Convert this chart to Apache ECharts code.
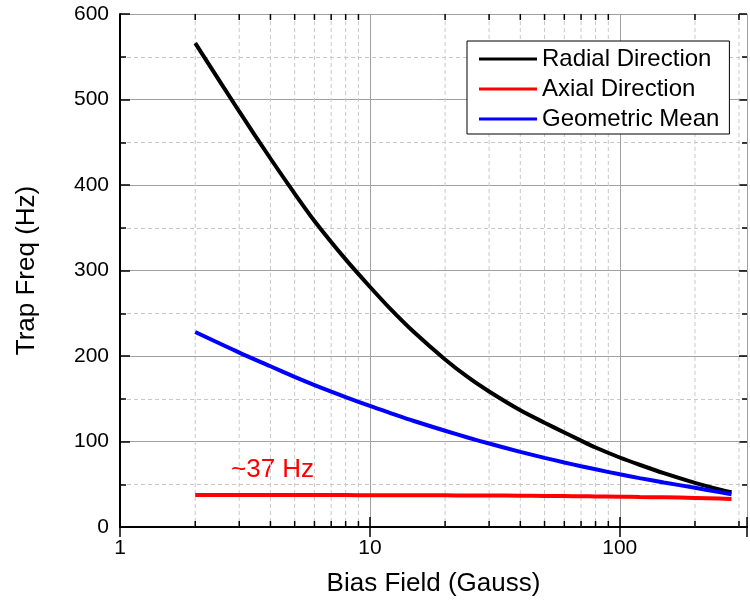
<!DOCTYPE html>
<html>
<head>
<meta charset="utf-8">
<script src="https://cdn.jsdelivr.net/npm/echarts@6/dist/echarts.min.js"></script>
<style>
  html, body { margin: 0; padding: 0; background: #fff; }
  #chart { width: 750px; height: 604px; }
</style>
</head>
<body>
<div id="chart"></div>
<script>
// bias field (Gauss) and trap frequencies (Hz)
var bias    = [2, 3, 4, 5, 6, 8, 10, 12, 15, 20, 25, 30, 40, 50, 60, 70, 80, 100, 120, 150, 200, 250, 280];
var radial  = [566, 486, 431, 390, 358, 313, 281, 256, 228, 196, 174, 158.5, 136.5, 122, 110.6, 101, 93, 81.3, 72.8, 63, 51.7, 44, 40.7];
var axial   = [37.5, 37.5, 37.4, 37.4, 37.3, 37.3, 37.2, 37.1, 37.1, 37, 36.9, 36.8, 36.6, 36.4, 36.2, 36, 35.8, 35.5, 35.1, 34.7, 34, 33.3, 32.8];
var geoMean = [228, 204, 188, 175.6, 166, 152, 141.6, 133.6, 124, 112.6, 104.1, 97.6, 87.9, 80.9, 75.5, 71.1, 67.5, 61.6, 57.2, 52.1, 45.8, 40.8, 38.3];
// minor decade positions for the dashed grid + small ticks
var minorX = [2, 3, 4, 5, 6, 7, 8, 9, 20, 30, 40, 50, 60, 70, 80, 90, 200, 300];
var names = ['Radial Direction', 'Axial Direction', 'Geometric Mean'];

var FONT = 'Liberation Sans, Arial, sans-serif';
var chart = echarts.init(document.getElementById('chart'));

function pairs(xs, ys) {
  var out = [];
  for (var i = 0; i < xs.length; i++) out.push([xs[i], ys[i]]);
  return out;
}

function isDecade(v) {
  var l = Math.log(v) / Math.LN10;
  return Math.abs(l - Math.round(l)) < 1e-6;
}

// dashed minor grid line and the short in-ticks at top and bottom
function renderMinor(params, api) {
  var x = api.value(0);
  var b = api.coord([x, 0]);
  var t = api.coord([x, 600]);
  return {
    type: 'group',
    children: [
      { type: 'line', shape: { x1: b[0], y1: t[1], x2: b[0], y2: b[1] },
        style: { stroke: '#c8c8c8', lineWidth: 1, lineDash: [4, 3] } },
      { type: 'line', shape: { x1: b[0], y1: b[1], x2: b[0], y2: b[1] - 6 },
        style: { stroke: '#000', lineWidth: 1.5 } },
      { type: 'line', shape: { x1: b[0], y1: t[1], x2: b[0], y2: t[1] + 6 },
        style: { stroke: '#000', lineWidth: 1.5 } }
    ]
  };
}

var option = {
  animation: false,
  backgroundColor: '#fff',
  textStyle: { fontFamily: FONT },
  grid: { left: 120, right: 0, top: 14, bottom: 77 },
  legend: {
    data: names,
    orient: 'vertical',
    left: 467,
    top: 41,
    padding: [6, 10, 3, 12],
    icon: 'rect',
    itemWidth: 58,
    itemHeight: 3,
    itemGap: 6,
    borderColor: '#000',
    borderWidth: 1,
    backgroundColor: '#fff',
    textStyle: { fontSize: 24, color: '#000', fontFamily: FONT, lineHeight: 24 }
  },
  xAxis: [{
    type: 'log',
    logBase: 10,
    min: 1,
    max: 323,
    name: 'Bias Field (Gauss)',
    nameLocation: 'middle',
    nameGap: 44,
    nameTextStyle: { fontSize: 26, color: '#000', fontFamily: FONT },
    axisLine: { lineStyle: { color: '#000', width: 2 } },
    axisTick: { inside: true, length: 10, lineStyle: { color: '#000', width: 1.5 } },
    axisLabel: {
      fontSize: 21, color: '#000', margin: 11, fontFamily: FONT,
      formatter: function (v) { return isDecade(v) ? String(Math.round(v)) : ''; }
    },
    splitLine: { show: true, lineStyle: { color: '#a0a0a0', width: 1 } }
  }, {
    type: 'log',
    logBase: 10,
    min: 1,
    max: 323,
    position: 'top',
    axisLine: { lineStyle: { color: '#000', width: 2 } },
    axisTick: { inside: true, length: 10, lineStyle: { color: '#000', width: 1.5 } },
    axisLabel: { show: false },
    splitLine: { show: false }
  }],
  yAxis: [{
    type: 'value',
    min: 0,
    max: 600,
    interval: 100,
    name: 'Trap Freq (Hz)',
    nameLocation: 'middle',
    nameGap: 80,
    nameTextStyle: { fontSize: 26, color: '#000', fontFamily: FONT },
    axisLine: { show: true, lineStyle: { color: '#000', width: 2 } },
    axisTick: { inside: true, length: 10, lineStyle: { color: '#000', width: 1.5 } },
    minorTick: { show: true, splitNumber: 2, length: 6, lineStyle: { color: '#000', width: 1.5 } },
    axisLabel: { fontSize: 21, color: '#000', margin: 11, fontFamily: FONT },
    splitLine: { show: true, lineStyle: { color: '#a0a0a0', width: 1 } },
    minorSplitLine: { show: true, lineStyle: { color: '#c8c8c8', width: 1, type: [4, 3] } }
  }, {
    type: 'value',
    min: 0,
    max: 600,
    interval: 100,
    position: 'right',
    axisLine: { show: false },
    axisTick: { inside: true, length: 8, lineStyle: { color: '#000', width: 1.5 } },
    minorTick: { show: true, splitNumber: 2, length: 5, lineStyle: { color: '#000', width: 1.5 } },
    axisLabel: { show: false },
    splitLine: { show: false }
  }],
  graphic: [{
    type: 'text',
    left: 231,
    top: 457,
    style: { text: '~37 Hz', fill: '#ff0000', font: '26px ' + FONT }
  }],
  series: [{
    type: 'custom',
    name: 'minor',
    renderItem: renderMinor,
    data: minorX.map(function (v) { return [v, 0]; }),
    z: 1,
    silent: true
  }, {
    name: names[0],
    type: 'line',
    data: pairs(bias, radial),
    smooth: 0.3,
    symbol: 'none',
    lineStyle: { color: '#000', width: 4 },
    itemStyle: { color: '#000' },
    z: 4
  }, {
    name: names[1],
    type: 'line',
    data: pairs(bias, axial),
    smooth: 0.3,
    symbol: 'none',
    lineStyle: { color: '#ff0000', width: 4 },
    itemStyle: { color: '#ff0000' },
    z: 3
  }, {
    name: names[2],
    type: 'line',
    data: pairs(bias, geoMean),
    smooth: 0.3,
    symbol: 'none',
    lineStyle: { color: '#0000ff', width: 4 },
    itemStyle: { color: '#0000ff' },
    z: 5
  }]
};

chart.setOption(option);
</script>
</body>
</html>
